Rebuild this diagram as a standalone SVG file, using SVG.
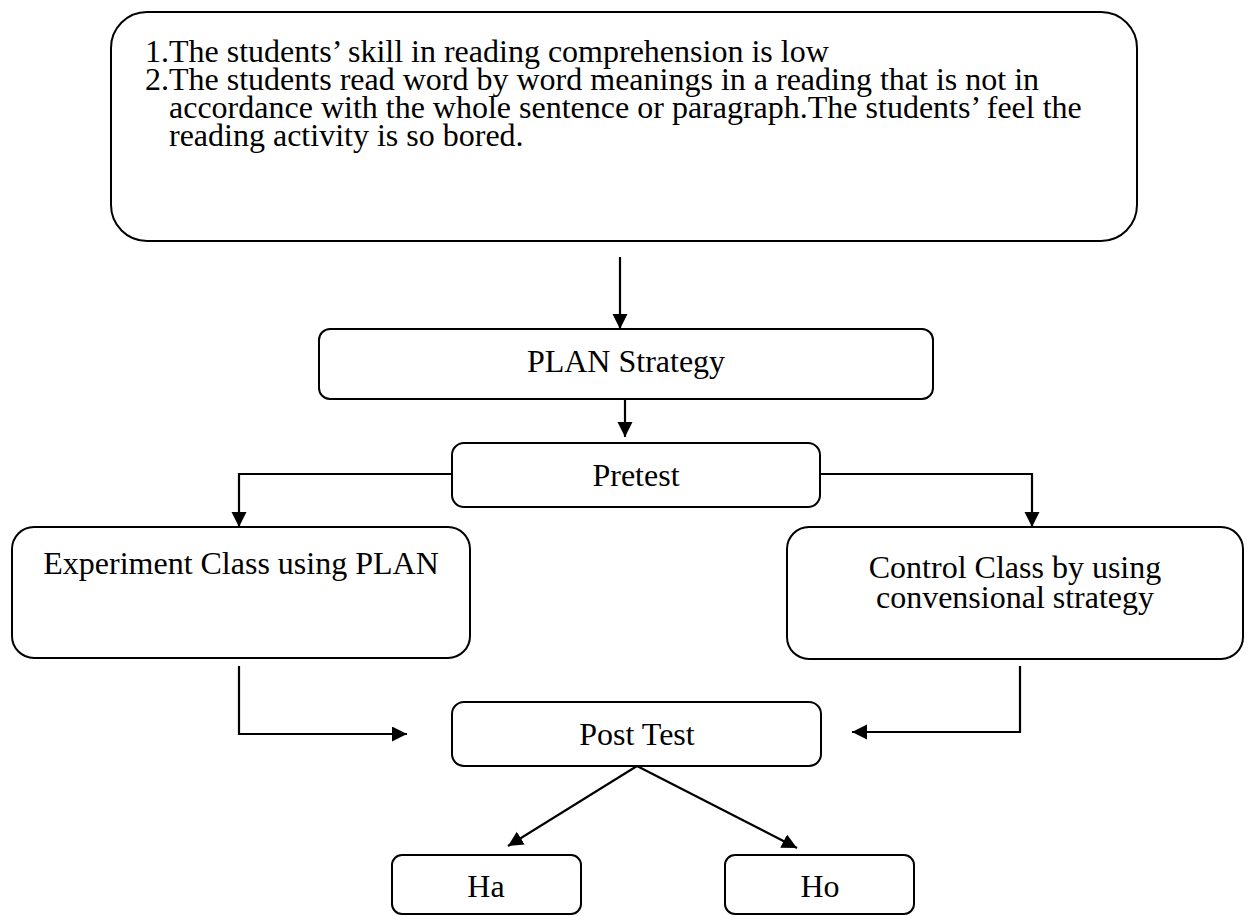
<svg xmlns="http://www.w3.org/2000/svg" width="1248" height="916" viewBox="0 0 1248 916">
<style>
.box{fill:#fff;stroke:#000;stroke-width:2}
.t{font-family:"Liberation Serif","Times New Roman",serif;font-size:32px;fill:#000}
.c{text-anchor:middle}
.ln{fill:none;stroke:#000;stroke-width:2.2}
</style>
<defs>
<marker id="ah" markerUnits="userSpaceOnUse" markerWidth="16" markerHeight="16" refX="15" refY="7.5" orient="auto">
<path d="M0,0 L15,7.5 L0,15 z" fill="#000"/>
</marker>
</defs>
<rect width="1248" height="916" fill="#fff"/>
<g id="problem">
<rect class="box" x="111" y="12" width="1026" height="229" rx="36"/>
<text class="t" x="145" y="62">1.The students’ skill in reading comprehension is low</text>
<text class="t" x="145" y="90">2.The students read word by word meanings in a reading that is not in</text>
<text class="t" x="169" y="118">accordance with the whole sentence or paragraph.The students’ feel the</text>
<text class="t" x="169" y="146">reading activity is so bored.</text>
</g>
<g id="plan">
<rect class="box" x="319" y="329" width="614" height="70" rx="11"/>
<text class="t c" x="626" y="372">PLAN Strategy</text>
</g>
<g id="pretest">
<rect class="box" x="452" y="443" width="368" height="64" rx="12"/>
<text class="t c" x="636" y="486">Pretest</text>
</g>
<g id="experiment">
<rect class="box" x="12" y="527" width="458" height="131" rx="22"/>
<text class="t c" x="241" y="574">Experiment Class using PLAN</text>
</g>
<g id="control">
<rect class="box" x="787" y="527" width="456" height="132" rx="22"/>
<text class="t c" x="1015" y="578">Control Class by using</text>
<text class="t c" x="1015" y="608">convensional strategy</text>
</g>
<g id="posttest">
<rect class="box" x="452" y="702" width="369" height="64" rx="12"/>
<text class="t c" x="637" y="745">Post Test</text>
</g>
<g id="ha">
<rect class="box" x="392" y="855" width="189" height="59" rx="10"/>
<text class="t c" x="486" y="897">Ha</text>
</g>
<g id="ho">
<rect class="box" x="725" y="855" width="189" height="59" rx="10"/>
<text class="t c" x="820" y="897">Ho</text>
</g>
<g id="connectors">
<path class="ln" d="M620,257 V329" marker-end="url(#ah)"/>
<path class="ln" d="M625,399 V437" marker-end="url(#ah)"/>
<path class="ln" d="M452,474 H239 V527" marker-end="url(#ah)"/>
<path class="ln" d="M820,474 H1032 V527" marker-end="url(#ah)"/>
<path class="ln" d="M239,666 V734 H407" marker-end="url(#ah)"/>
<path class="ln" d="M1020,666 V732 H852" marker-end="url(#ah)"/>
<path class="ln" d="M637,766 L508,846" marker-end="url(#ah)"/>
<path class="ln" d="M637,766 L797,848" marker-end="url(#ah)"/>
</g>
</svg>
